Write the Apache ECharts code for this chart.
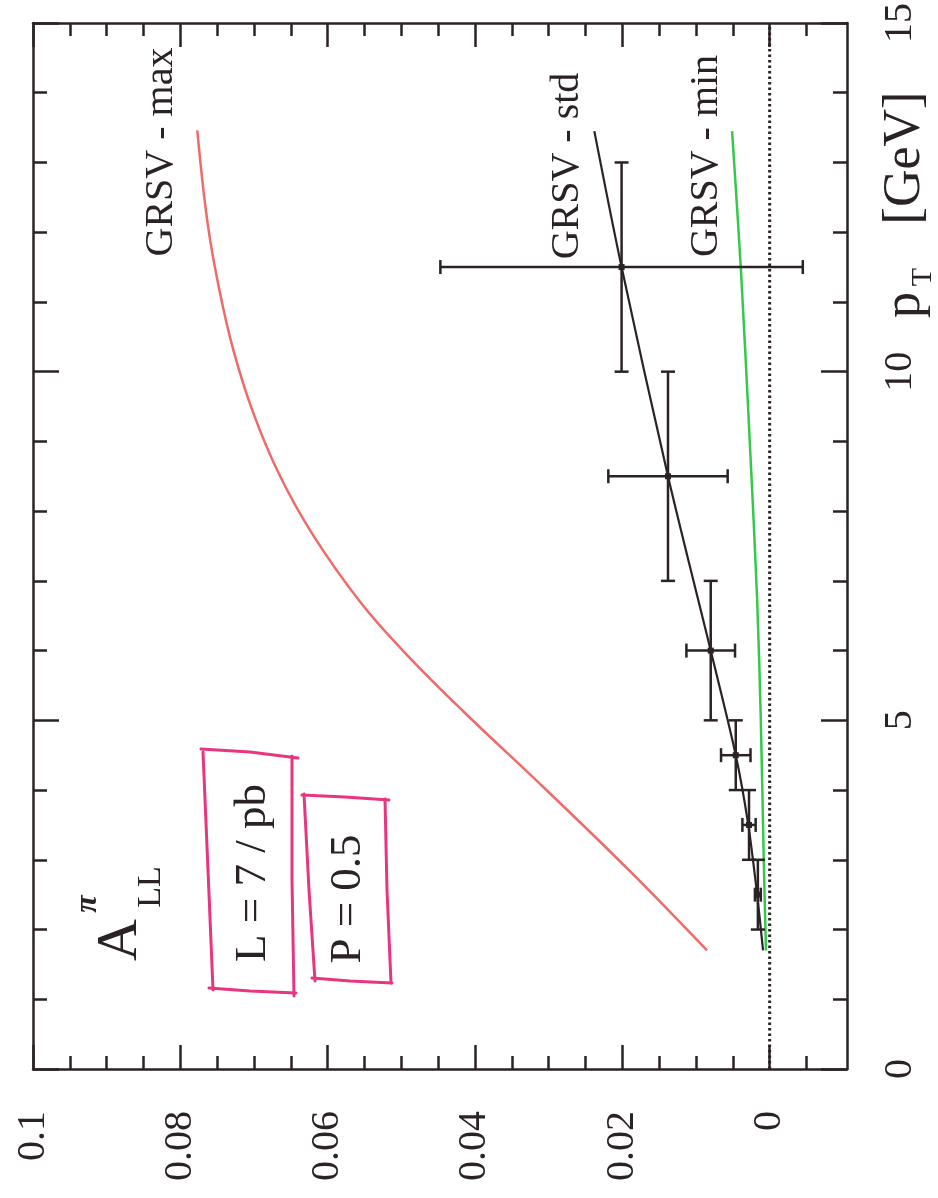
<!DOCTYPE html>
<html><head><meta charset="utf-8">
<script src="https://cdn.jsdelivr.net/npm/echarts@6/dist/echarts.min.js"></script>
<style>html,body{margin:0;padding:0;background:#fff;}#c{width:938px;height:1198px;}</style>
</head><body><div id="c"></div>
<script>
// Axis ticks
const allMajorTicks = [0, 0.02, 0.04, 0.06, 0.08, 0.1];
const allMinorTicks = [-0.005, 0.005, 0.01, 0.015, 0.025, 0.03, 0.035, 0.045, 0.05, 0.055, 0.065, 0.07, 0.075, 0.085, 0.09, 0.095];
const ptMajorTicks = [0, 5, 10, 15];
const ptMinorTicks = [1, 2, 3, 4, 6, 7, 8, 9, 11, 12, 13, 14];

// GRSV - max curve
const maxPt = [1.70, 2.84, 3.99, 5.13, 5.99, 6.70, 7.66, 8.51, 9.41, 10.31, 11.17, 12.13, 13.46];
const maxA  = [0.0085, 0.0190, 0.0302, 0.0416, 0.0497, 0.0556, 0.0620, 0.0665, 0.0701, 0.0728, 0.0747, 0.0763, 0.0777];
// GRSV - std curve
const stdPt = [1.70, 2.5, 3.5, 4.5, 6.0, 8.5, 11.5, 13.45];
const stdA  = [0.0009, 0.0017, 0.0029, 0.0046, 0.0080, 0.0138, 0.0201, 0.0238];
// GRSV - min curve
const minPt = [1.70, 3.0, 5.0, 6.74, 9.0, 11.46, 13.45];
const minA  = [0.0005, 0.0008, 0.0012, 0.0017, 0.0027, 0.0039, 0.0051];
// Projected data points (pT bins) with A_LL errors
const ptCenter = [2.5, 3.5, 4.5, 6.0, 8.5, 11.5];
const ptLow    = [2, 3, 4, 5, 7, 10];
const ptHigh   = [3, 4, 5, 7, 10, 13];
const allValue = [0.0016, 0.0028, 0.0046, 0.0080, 0.0138, 0.0201];
const allError = [0.0004, 0.0009, 0.0020, 0.0033, 0.0081, 0.0246];
// zero reference line
const zeroPt = [0, 15];

const INK = '#2a2226';
const FONT = '"Liberation Serif", serif';
const PINK = '#e8357f';

const chart = echarts.init(document.getElementById('c'), null, {renderer: 'canvas'});

function xAx(pos, ticks, len, labels, showLine) {
  return {
    type: 'value', position: pos, inverse: true, min: -0.0105, max: 0.1,
    axisLine: {show: showLine, onZero: false, lineStyle: {color: INK, width: 2.5}},
    axisTick: {show: true, inside: true, length: len, customValues: ticks, lineStyle: {color: INK, width: 2.5}},
    axisLabel: labels ? {show: true, customValues: allMajorTicks, rotate: 90, margin: 42,
      fontFamily: FONT, fontSize: 40, color: INK,
      formatter: v => String(+(+v).toFixed(3))} : {show: false},
    splitLine: {show: false}
  };
}
function yAx(pos, ticks, len, labels, showLine) {
  return {
    type: 'value', position: pos, min: 0, max: 15,
    axisLine: {show: showLine, onZero: false, lineStyle: {color: INK, width: 2.5}},
    axisTick: {show: true, inside: true, length: len, customValues: ticks, lineStyle: {color: INK, width: 2.5}},
    axisLabel: labels ? {show: true, customValues: ptMajorTicks, rotate: 90, margin: 33,
      fontFamily: FONT, fontSize: 40, color: INK} : {show: false},
    splitLine: {show: false}
  };
}

function pairs(xs, ys) { return xs.map((x, i) => [ys[i], x]); }

function rtext(text, x, y, size, extra) {
  return {type: 'text', x: x, y: y, rotation: Math.PI / 2, z: 50,
    style: Object.assign({text: text, fontFamily: FONT, fontSize: size, fill: INK, align: 'center', verticalAlign: 'middle'}, extra || {})};
}
function pline(points) {
  return {type: 'polyline', z: 40, shape: {points: points}, style: {stroke: PINK, lineWidth: 3, fill: null, lineJoin: 'round', lineCap: 'round'}};
}

const option = {
  backgroundColor: '#fff',
  animation: false,
  grid: {left: 33, right: 91, top: 19, bottom: 129, containLabel: false},
  xAxis: [
    xAx('bottom', allMajorTicks, 24, true, true),
    xAx('bottom', allMinorTicks, 13, false, false),
    xAx('top', allMajorTicks, 24, false, true),
    xAx('top', allMinorTicks, 13, false, false)
  ],
  yAxis: [
    yAx('right', ptMajorTicks, 26, true, true),
    yAx('right', ptMinorTicks, 14, false, false),
    yAx('left', ptMajorTicks, 26, false, true),
    yAx('left', ptMinorTicks, 14, false, false)
  ],
  series: [
    {type: 'line', name: 'zero', data: zeroPt.map(p => [0, p]), showSymbol: false, symbol: 'none',
      lineStyle: {color: INK, width: 3, type: [2.5, 3]}, z: 2},
    {type: 'line', name: 'GRSV - max', data: pairs(maxPt, maxA), smooth: 0.4, symbol: 'none',
      lineStyle: {color: '#f06a68', width: 2.5}, z: 3},
    {type: 'line', name: 'GRSV - min', data: pairs(minPt, minA), smooth: 0.3, symbol: 'none',
      lineStyle: {color: '#36c84c', width: 2.5}, z: 3},
    {type: 'line', name: 'GRSV - std', data: pairs(stdPt, stdA), smooth: 0.3, symbol: 'none',
      lineStyle: {color: INK, width: 2.2}, z: 4},
    {type: 'custom', name: 'data', z: 5,
      data: ptCenter.map((p, i) => [allValue[i], p, allError[i], ptLow[i], ptHigh[i]]),
      encode: {x: 0, y: 1},
      renderItem: function (params, api) {
        const a = api.value(0), pt = api.value(1), e = api.value(2), lo = api.value(3), hi = api.value(4);
        const c = api.coord([a, pt]);
        const l = api.coord([a + e, pt]);
        const r = api.coord([a - e, pt]);
        const b = api.coord([a, lo]);
        const t = api.coord([a, hi]);
        const cap = 7;
        const st = {stroke: INK, lineWidth: 2.5, fill: null};
        const ln = (x1, y1, x2, y2) => ({type: 'line', shape: {x1, y1, x2, y2}, style: st});
        return {type: 'group', children: [
          ln(l[0], l[1], r[0], r[1]),
          ln(l[0], l[1] - cap, l[0], l[1] + cap),
          ln(r[0], r[1] - cap, r[0], r[1] + cap),
          ln(b[0], b[1], t[0], t[1]),
          ln(b[0] - cap, b[1], b[0] + cap, b[1]),
          ln(t[0] - cap, t[1], t[0] + cap, t[1]),
          {type: 'rect', shape: {x: c[0] - 3, y: c[1] - 3, width: 6, height: 6}, style: {fill: INK}}
        ]};
      }
    }
  ],
  graphic: [
    rtext('GRSV - max', 161, 152, 40),
    rtext('GRSV - std', 567, 166, 40),
    rtext('GRSV - min', 706, 156, 40),
    rtext('L = 7 / pb', 253, 873, 45),
    rtext('P = 0.5', 348, 899, 45),
    rtext('A', 121, 940, 58),
    rtext('LL', 151, 887, 34),
    rtext('π', 88, 904, 32, {fontStyle: 'italic', fontWeight: 'bold'}),
    rtext('[GeV]', 905, 158, 52),
    rtext('p', 905, 305, 52),
    rtext('T', 923, 277, 30),
    pline([[203, 752], [208, 870], [213, 990]]),
    pline([[201, 749], [250, 752], [298, 758]]),
    pline([[292, 756], [292, 880], [294, 996]]),
    pline([[209, 988], [250, 991], [296, 993]]),
    pline([[304, 794], [309, 890], [315, 981]]),
    pline([[302, 795], [345, 797], [389, 800]]),
    pline([[385, 799], [387, 890], [391, 983]]),
    pline([[312, 978], [350, 981], [392, 983]])
  ]
};
chart.setOption(option);
</script>
</body></html>
